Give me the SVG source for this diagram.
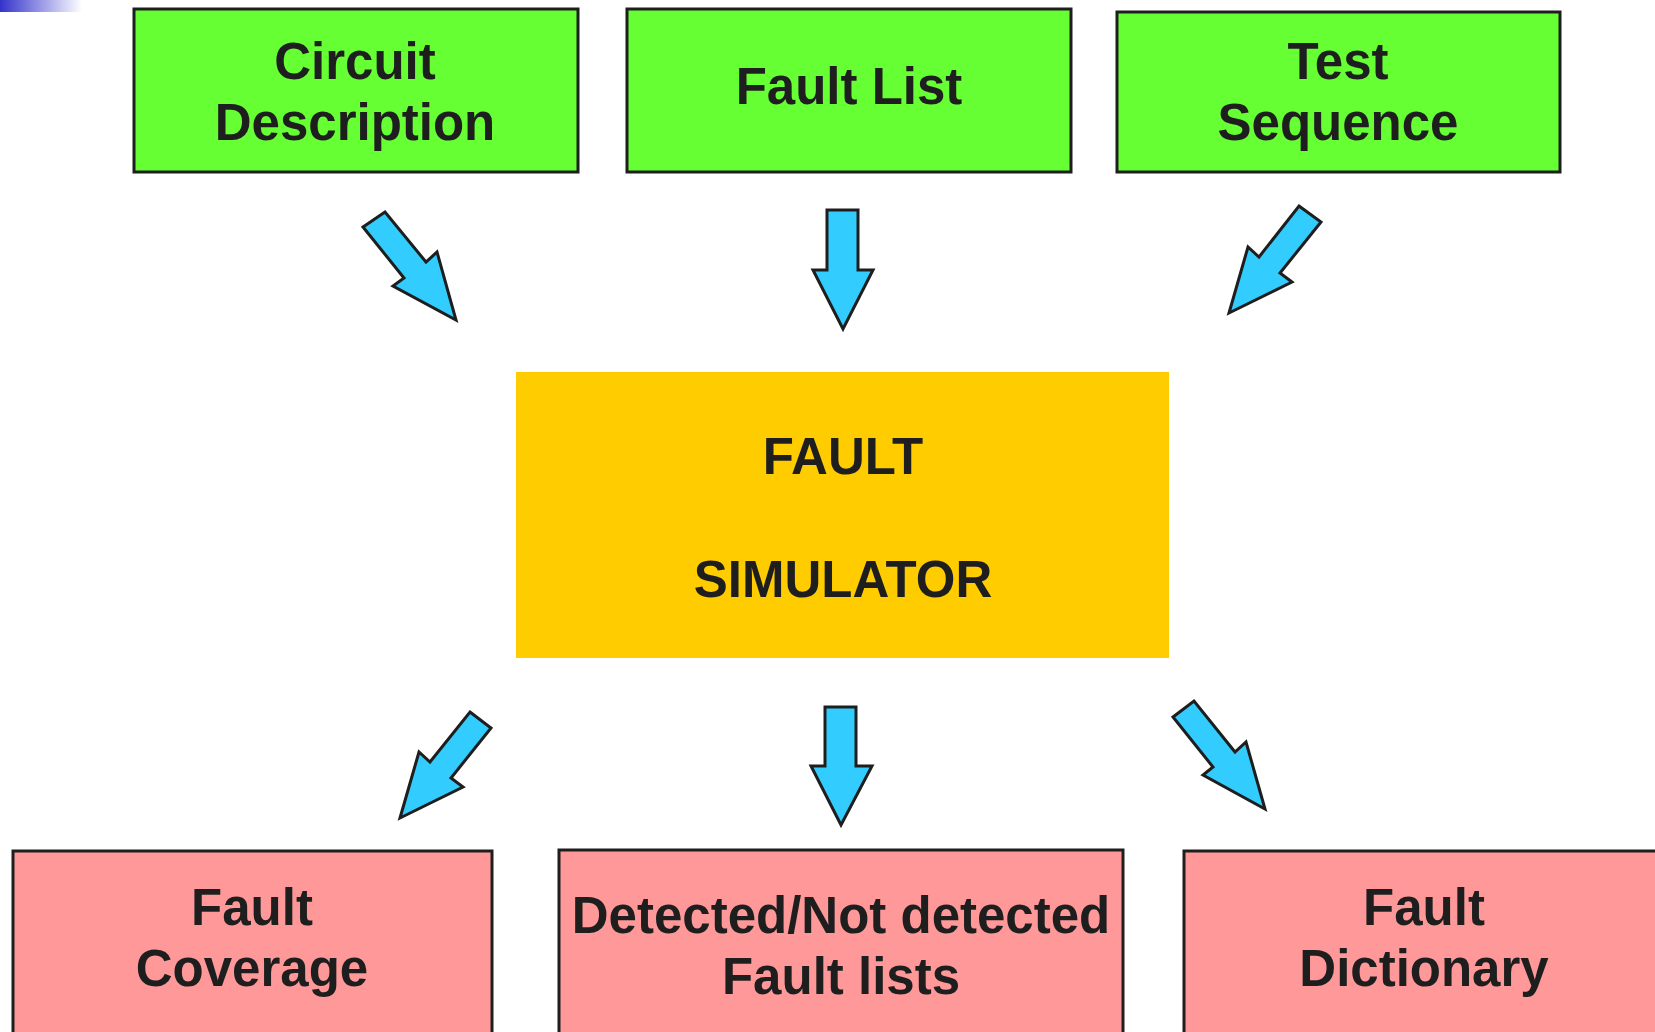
<svg xmlns="http://www.w3.org/2000/svg" width="1655" height="1032" viewBox="0 0 1655 1032">
  <defs>
    <linearGradient id="corner" x1="0" y1="0" x2="1" y2="0">
      <stop offset="0" stop-color="#3333cc"/>
      <stop offset="1" stop-color="#ffffff"/>
    </linearGradient>
    <style>
      .box { stroke: #1e1e1e; stroke-width: 3; }
      .in { fill: #66ff33; }
      .out { fill: #ff9999; }
      .sim { fill: #ffcc00; }
      .lbl { font-family: "Liberation Sans", Arial, sans-serif; font-weight: bold; font-size: 51px; fill: #1e1e1e; text-anchor: middle; }
      .simlbl { font-size: 51px; }
      .arrow { fill: #33ccff; stroke: #1e1e1e; stroke-width: 3; stroke-linejoin: miter; }
    </style>
  </defs>
  <rect width="1655" height="1032" fill="#ffffff"/>
  <rect x="0" y="0" width="82" height="12" fill="url(#corner)"/>

  <g id="circuit-description">
    <rect class="box in" x="134" y="9" width="444" height="163"/>
    <text class="lbl" x="355" y="79">Circuit</text>
    <text class="lbl" x="355" y="140">Description</text>
  </g>
  <g id="fault-list">
    <rect class="box in" x="627" y="9" width="444" height="163"/>
    <text class="lbl" x="849" y="104">Fault List</text>
  </g>
  <g id="test-sequence">
    <rect class="box in" x="1117" y="12" width="443" height="160"/>
    <text class="lbl" x="1338" y="79">Test</text>
    <text class="lbl" x="1338" y="140">Sequence</text>
  </g>
  <g id="fault-simulator">
    <rect class="sim" x="516" y="372" width="653" height="286"/>
    <text class="lbl simlbl" x="843" y="474">FAULT</text>
    <text class="lbl simlbl" x="843" y="597">SIMULATOR</text>
  </g>
  <g id="fault-coverage">
    <rect class="box out" x="13" y="851" width="479" height="200"/>
    <text class="lbl" x="252" y="925">Fault</text>
    <text class="lbl" x="252" y="986">Coverage</text>
  </g>
  <g id="detected-lists">
    <rect class="box out" x="559" y="850" width="564" height="200"/>
    <text class="lbl" x="841" y="933">Detected/Not detected</text>
    <text class="lbl" x="841" y="994">Fault lists</text>
  </g>
  <g id="fault-dictionary">
    <rect class="box out" x="1184" y="851" width="500" height="200"/>
    <text class="lbl" x="1424" y="925">Fault</text>
    <text class="lbl" x="1424" y="986">Dictionary</text>
  </g>

  <g id="connectors">
    <polygon class="arrow" points="363,227 385,212 426,262 437,252 456,320 393,286 404,278"/>
    <polygon class="arrow" points="827,210 858,210 858,270 873,270 843,329 813,270 827,270"/>
    <polygon class="arrow" points="1299,206 1321,222 1280,273 1292,282 1229,313 1248,247 1259,257"/>
    <polygon class="arrow" points="470,712 491,728 451,778 463,787 400,818 419,752 430,762"/>
    <polygon class="arrow" points="825,707 856,707 856,766 872,766 841,825 811,766 825,766"/>
    <polygon class="arrow" points="1173,717 1194,701 1235,752 1246,742 1265,809 1203,775 1213,767"/>
  </g>
</svg>
